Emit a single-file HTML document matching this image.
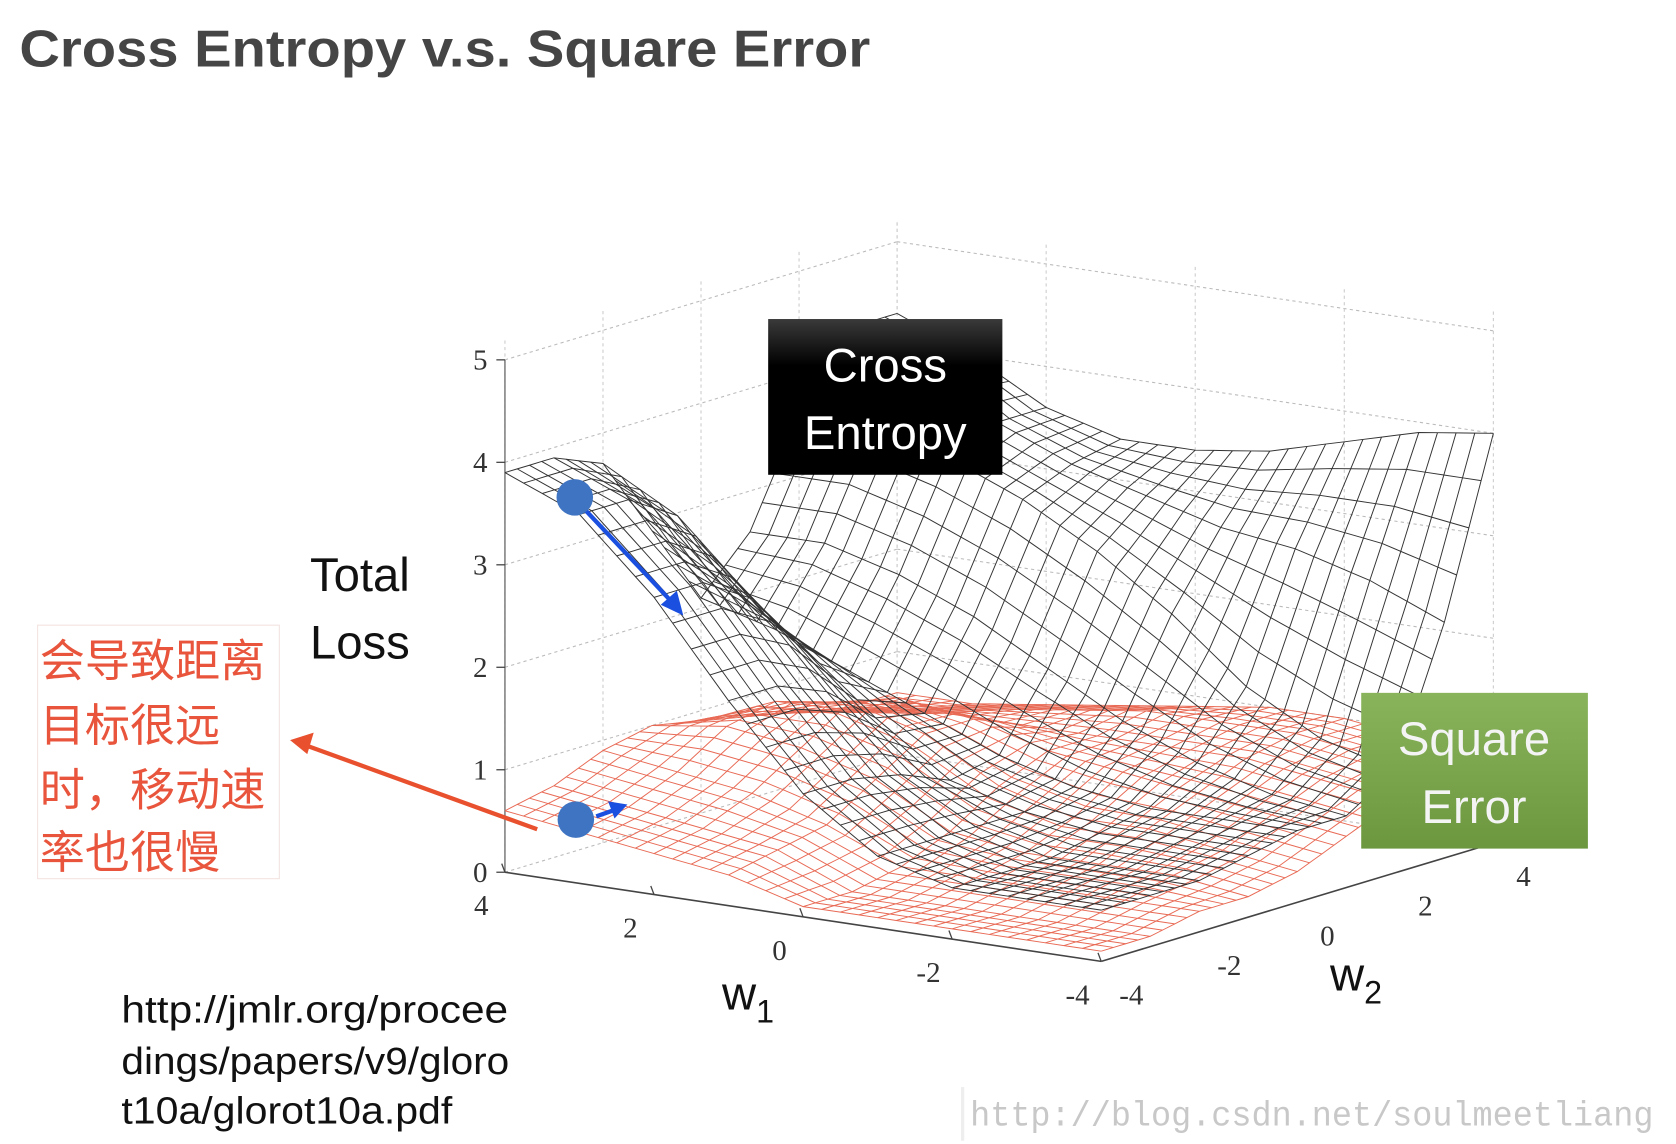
<!DOCTYPE html>
<html><head><meta charset="utf-8"><style>
html,body{margin:0;padding:0;background:#fff;}
svg{display:block;}
</style></head><body>
<svg id="chart" width="1676" height="1144" viewBox="0 0 1560 1065" preserveAspectRatio="none" xmlns="http://www.w3.org/2000/svg">
<rect width="1560" height="1065" fill="#fff"/>
<text x="18" y="62" font-family="Liberation Sans, sans-serif" font-weight="bold" font-size="48" fill="#454545" textLength="792" lengthAdjust="spacingAndGlyphs">Cross Entropy v.s. Square Error</text>
<g id="box"></g>
<g id="se"></g>
<g id="ce"></g>
<g id="ticks" font-family="Liberation Serif, serif" font-size="27" fill="#333"></g>
<text font-family="Liberation Sans, sans-serif" font-size="44" fill="#111" text-anchor="middle"><tspan x="335" y="550">Total</tspan><tspan x="335" y="613">Loss</tspan></text>
<text x="672" y="940" font-family="Liberation Sans, sans-serif" font-size="44" fill="#111">w<tspan font-size="30" dy="12">1</tspan></text>
<text x="1238" y="922" font-family="Liberation Sans, sans-serif" font-size="44" fill="#111">w<tspan font-size="30" dy="12">2</tspan></text>
<defs><linearGradient id="gk" x1="0" y1="0" x2="0" y2="1"><stop offset="0" stop-color="#3a3a3a"/><stop offset="0.3" stop-color="#000"/><stop offset="1" stop-color="#000"/></linearGradient>
<linearGradient id="gg" x1="0" y1="0" x2="0" y2="1"><stop offset="0" stop-color="#8ab45c"/><stop offset="1" stop-color="#6c973f"/></linearGradient></defs>
<g><rect x="715" y="297" width="218" height="145" fill="url(#gk)"/>
<text font-family="Liberation Sans, sans-serif" font-size="44" fill="#fff" text-anchor="middle"><tspan x="824" y="355">Cross</tspan><tspan x="824" y="418">Entropy</tspan></text></g>
<g><rect x="1267" y="645" width="211" height="145" fill="url(#gg)"/>
<text font-family="Liberation Sans, sans-serif" font-size="44" fill="#f4f4f4" text-anchor="middle"><tspan x="1372" y="703">Square</tspan><tspan x="1372" y="766">Error</tspan></text></g>
<g><rect x="35" y="582" width="225" height="236" fill="#fff" stroke="#f3e3e0"/>
<text font-family="Liberation Sans, 'Noto Sans CJK SC', sans-serif" font-size="42" fill="#e8553c"><tspan x="37" y="630">会导致距离</tspan><tspan x="37" y="690">目标很远</tspan><tspan x="37" y="750">时，移动速</tspan><tspan x="37" y="808">率也很慢</tspan></text></g>
<g>
<line x1="500" y1="772" x2="285" y2="694" stroke="#e8502e" stroke-width="4"/>
<polygon points="270,689 292,682 286,702" fill="#e8502e"/>
<line x1="545" y1="475" x2="625" y2="560" stroke="#1a4fe0" stroke-width="4"/>
<polygon points="636,573 615,563 630,550" fill="#1a4fe0"/>
<line x1="555" y1="760" x2="572" y2="754" stroke="#1a4fe0" stroke-width="4"/>
<polygon points="584,749 566,746 572,762" fill="#1a4fe0"/>
<circle cx="535" cy="463" r="17" fill="#3f74c2"/>
<circle cx="536" cy="763" r="17" fill="#3f74c2"/>
</g>
<text font-family="Liberation Sans, sans-serif" font-size="35" fill="#111"><tspan x="113" y="952" textLength="360" lengthAdjust="spacingAndGlyphs">http://jmlr.org/procee</tspan><tspan x="113" y="1000" textLength="361" lengthAdjust="spacingAndGlyphs">dings/papers/v9/gloro</tspan><tspan x="113" y="1046" textLength="308" lengthAdjust="spacingAndGlyphs">t10a/glorot10a.pdf</tspan></text>
<line x1="896" y1="1012" x2="896" y2="1062" stroke="#eee" stroke-width="3"/>
<text x="903" y="1048" font-family="Liberation Mono, monospace" font-size="33" fill="#c8c8c8" textLength="636" lengthAdjust="spacingAndGlyphs">http://blog.csdn.net/soulmeetliang</text>
</svg>
<script>
const wValues = [4,3,2,1,0,-1,-2,-3,-4];
const w2Values = [-4,-3,-2,-1,0,1,2,3,4];
const zTicks = [0,1,2,3,4,5];
const w1Ticks = [4,2,0,-2,-4];
const w2Ticks = [-4,-2,0,2,4];
// rows: w1 = 4..-4, cols: w2 = -4..4
const ceRow0 = [3.9,3.9,3.7,2.9,2.1,2.6,3.6,4.3,4.3];
const ceRow1 = [3.6,3.6,3.3,2.5,1.9,2.6,3.6,4.1,4.0];
const ceRow2 = [2.9,2.9,2.6,2.0,1.6,2.4,3.4,3.6,3.6];
const ceRow3 = [2.0,2.0,1.8,1.4,1.3,2.1,3.1,3.3,3.4];
const ceRow4 = [1.2,1.2,1.1,0.9,1.0,1.7,2.7,3.1,3.4];
const ceRow5 = [0.7,0.7,0.7,0.7,0.8,1.3,2.2,2.9,3.5];
const ceRow6 = [0.5,0.5,0.5,0.6,0.7,1.0,1.6,2.8,3.7];
const ceRow7 = [0.5,0.5,0.5,0.6,0.7,0.8,1.2,2.6,3.9];
const ceRow8 = [0.5,0.5,0.5,0.6,0.7,0.7,1.0,2.3,4.0];
const seRow0 = [0.6,0.7,0.9,1.0,0.9,0.8,0.7,0.6,0.6];
const seRow1 = [0.5,0.6,0.8,1.1,1.2,1.0,0.8,0.7,0.6];
const seRow2 = [0.4,0.5,0.7,1.0,1.3,1.2,0.9,0.8,0.7];
const seRow3 = [0.3,0.4,0.5,0.8,1.1,1.1,0.9,0.9,0.8];
const seRow4 = [0.1,0.1,0.2,0.4,0.7,0.9,0.9,1.0,0.9];
const seRow5 = [0.1,0.1,0.2,0.3,0.5,0.8,0.9,1.0,1.0];
const seRow6 = [0.1,0.1,0.2,0.3,0.5,0.7,0.9,1.0,1.0];
const seRow7 = [0.1,0.1,0.2,0.3,0.4,0.6,0.8,0.9,0.9];
const seRow8 = [0.1,0.1,0.2,0.2,0.3,0.5,0.7,0.8,0.8];
const ceGrid = [ceRow0,ceRow1,ceRow2,ceRow3,ceRow4,ceRow5,ceRow6,ceRow7,ceRow8];
const seGrid = [seRow0,seRow1,seRow2,seRow3,seRow4,seRow5,seRow6,seRow7,seRow8];

const NS = 'http://www.w3.org/2000/svg';
const O = [470, 812], A = [555, 83], B = [365, -110], ZS = 95.4;
function proj(w1, w2, z) {
  const u = (4 - w1) / 8, v = (w2 + 4) / 8;
  return [O[0] + A[0]*u + B[0]*v, O[1] + A[1]*u + B[1]*v - z*ZS];
}
function line(g, p, q, stroke, w, dash) {
  const l = document.createElementNS(NS, 'line');
  l.setAttribute('x1', p[0]); l.setAttribute('y1', p[1]);
  l.setAttribute('x2', q[0]); l.setAttribute('y2', q[1]);
  l.setAttribute('stroke', stroke); l.setAttribute('stroke-width', w);
  if (dash) l.setAttribute('stroke-dasharray', dash);
  g.appendChild(l); return l;
}
const box = document.getElementById('box');
for (const z of zTicks) {
  line(box, proj(4,-4,z), proj(4,4,z), '#bbb', 1, '3,3');
  line(box, proj(4,4,z), proj(-4,4,z), '#bbb', 1, '3,3');
}
for (const t of w2Ticks) line(box, proj(4,t,0), proj(4,t,5.2), '#ccc', 1, '3,3');
for (const t of w1Ticks) line(box, proj(t,4,0), proj(t,4,5.2), '#ccc', 1, '3,3');
line(box, proj(4,-4,0), proj(4,-4,5), '#666', 1.2);
line(box, proj(4,-4,0), proj(-4,-4,0), '#444', 1.5);
line(box, proj(-4,-4,0), proj(-4,4,0), '#444', 1.5);
for (const t of w1Ticks) { const p = proj(t,-4,0); line(box, p, [p[0]-3,p[1]-8], '#444', 1.2); }
for (const z of zTicks) { const p = proj(4,-4,z); line(box, p, [p[0]-8,p[1]], '#444', 1.2); }

// rendering helper: sample surface between grid nodes (bilinear) for a dense mesh
const SUB = 4;
function sample(grid, fi, fj) {
  const i0 = Math.min(Math.floor(fi), grid.length - 2), j0 = Math.min(Math.floor(fj), grid[0].length - 2);
  const ti = fi - i0, tj = fj - j0;
  return (1-ti)*(1-tj)*grid[i0][j0] + ti*(1-tj)*grid[i0+1][j0] + (1-ti)*tj*grid[i0][j0+1] + ti*tj*grid[i0+1][j0+1];
}
function wAt(arr, f) { const k = Math.min(Math.floor(f), arr.length - 2); const t = f - k; return arr[k]*(1-t) + arr[k+1]*t; }
function drawSurface(gid, grid, color, w) {
  const g = document.getElementById(gid);
  const n = (wValues.length - 1) * SUB, m = (w2Values.length - 1) * SUB;
  for (let a = 0; a <= n; a++) {
    let d = '';
    for (let b = 0; b <= m; b++) {
      const fi = a / SUB, fj = b / SUB;
      const p = proj(wAt(wValues, fi), wAt(w2Values, fj), sample(grid, fi, fj));
      d += (b ? 'L' : 'M') + p[0].toFixed(1) + ',' + p[1].toFixed(1);
    }
    const path = document.createElementNS(NS, 'path');
    
    
    path.setAttribute('d', d); path.setAttribute('fill', 'none');
    path.setAttribute('stroke', color); path.setAttribute('stroke-width', w);
    g.appendChild(path);
  }
  for (let b = 0; b <= m; b++) {
    let d = '';
    for (let a = 0; a <= n; a++) {
      const fi = a / SUB, fj = b / SUB;
      const p = proj(wAt(wValues, fi), wAt(w2Values, fj), sample(grid, fi, fj));
      d += (a ? 'L' : 'M') + p[0].toFixed(1) + ',' + p[1].toFixed(1);
    }
    const path = document.createElementNS(NS, 'path');
    
    
    path.setAttribute('d', d); path.setAttribute('fill', 'none');
    path.setAttribute('stroke', color); path.setAttribute('stroke-width', w);
    g.appendChild(path);
  }
}
drawSurface('se', seGrid, '#e86a55', 0.9);
drawSurface('ce', ceGrid, '#333', 0.9);

const tg = document.getElementById('ticks');
function label(x, y, s, name) {
  const t = document.createElementNS(NS, 'text');
  t.setAttribute('x', x); t.setAttribute('y', y);
  t.setAttribute('text-anchor', 'middle');
  
  
  t.textContent = s; tg.appendChild(t);
}
for (const z of zTicks) { const p = proj(4,-4,z); label(p[0]-23, p[1]+9, String(z), 'z-tick-label'); }
for (const t of w1Ticks) { const p = proj(t,-4,0); label(p[0]-22, p[1]+40, String(t), 'w1-tick-label'); }
for (const t of w2Ticks) { const p = proj(-4,t,0); label(p[0]+28, p[1]+40, String(t), 'w2-tick-label'); }
</script>
</body></html>
